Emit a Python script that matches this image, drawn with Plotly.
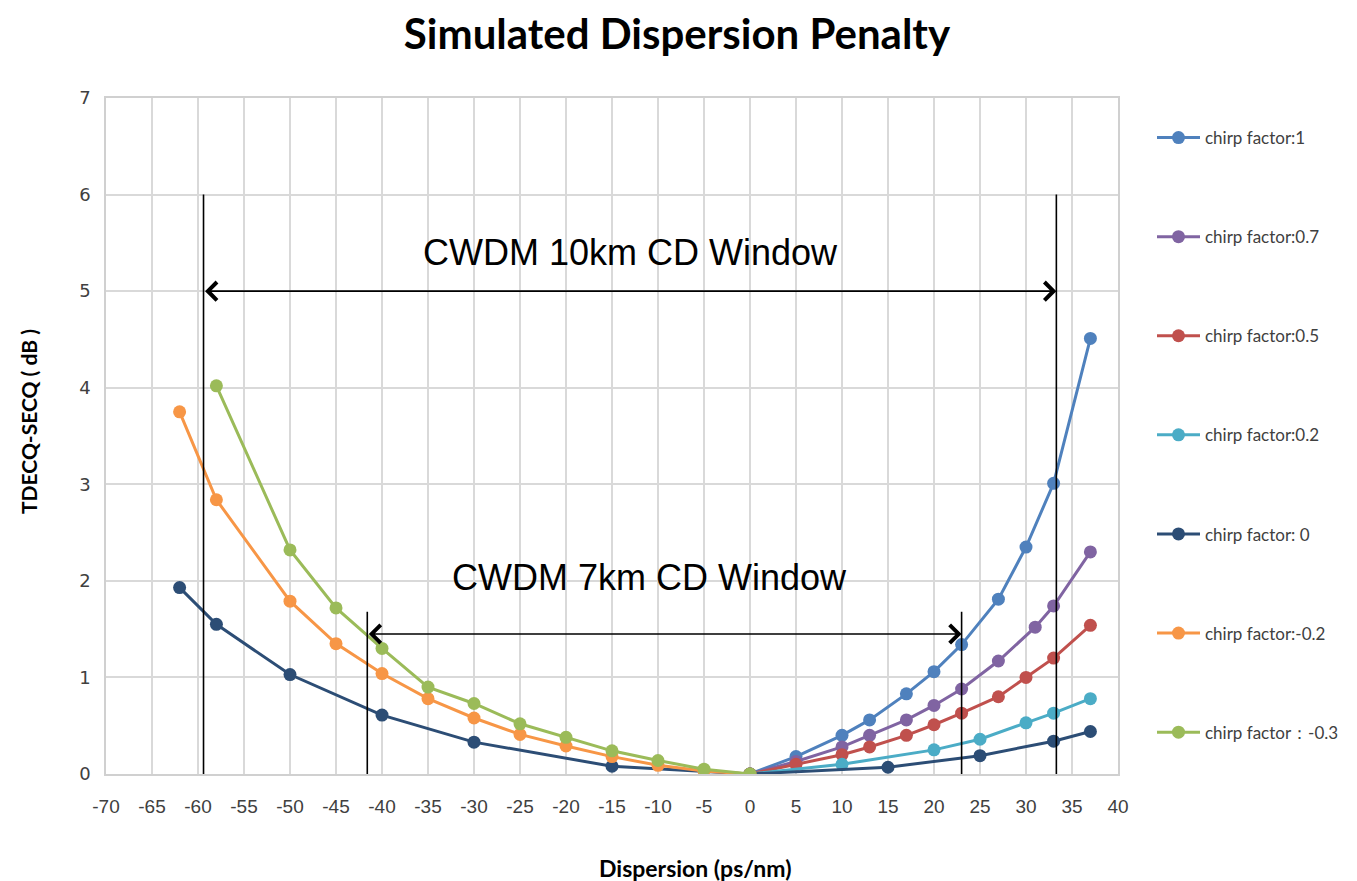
import plotly.graph_objects as go

# ---- data ----
x_cf1 = [0, 5, 10, 13, 17, 20, 23, 27, 30, 33, 37]
y_cf1 = [0, 0.18, 0.40, 0.56, 0.83, 1.06, 1.34, 1.81, 2.35, 3.01, 4.51]
x_cf07 = [0, 5, 10, 13, 17, 20, 23, 27, 31, 33, 37]
y_cf07 = [0, 0.13, 0.28, 0.40, 0.56, 0.71, 0.88, 1.17, 1.52, 1.74, 2.30]
x_cf05 = [0, 5, 10, 13, 17, 20, 23, 27, 30, 33, 37]
y_cf05 = [0, 0.10, 0.20, 0.28, 0.40, 0.51, 0.63, 0.80, 1.00, 1.20, 1.54]
x_cf02 = [0, 10, 20, 25, 30, 33, 37]
y_cf02 = [0, 0.10, 0.25, 0.36, 0.53, 0.63, 0.78]
x_cf0 = [-62, -58, -50, -40, -30, -15, 0, 15, 25, 33, 37]
y_cf0 = [1.93, 1.55, 1.03, 0.61, 0.33, 0.08, 0, 0.07, 0.19, 0.34, 0.44]
x_cfm02 = [-62, -58, -50, -45, -40, -35, -30, -25, -20, -15, -10, -5, 0]
y_cfm02 = [3.75, 2.84, 1.79, 1.35, 1.04, 0.78, 0.58, 0.41, 0.29, 0.18, 0.09, 0.03, 0]
x_cfm03 = [-58, -50, -45, -40, -35, -30, -25, -20, -15, -10, -5, 0]
y_cfm03 = [4.02, 2.32, 1.72, 1.30, 0.90, 0.73, 0.52, 0.38, 0.24, 0.14, 0.05, 0]

series_names = ["chirp factor:1", "chirp factor:0.7", "chirp factor:0.5",
                "chirp factor:0.2", "chirp factor: 0", "chirp factor:-0.2",
                "chirp factor：-0.3"]
series_colors = ["#4F81BD", "#8064A2", "#C0504D", "#4BACC6", "#2C4D75", "#F79646", "#9BBB59"]

# CD windows (ps/nm) and annotation levels (dB)
win10_bounds = [-59.4, 33.3]
win10_line_top = 6.0
win10_arrow_y = 5.0
win10_label = "CWDM 10km CD Window"
win10_label_pos = [-13.0, 5.40]
win7_bounds = [-41.6, 23.0]
win7_line_top = 1.68
win7_arrow_y = 1.45
win7_label = "CWDM 7km CD Window"
win7_label_pos = [-10.9, 2.03]

x_ticks = list(range(-70, 45, 5))
y_ticks = list(range(0, 8))

xs = [x_cf1, x_cf07, x_cf05, x_cf02, x_cf0, x_cfm02, x_cfm03]
ys = [y_cf1, y_cf07, y_cf05, y_cf02, y_cf0, y_cfm02, y_cfm03]

# figure size compensates the 8px page margin of the html body
W, H = 1349, 873
L, R, T, B = 98, 239, 90, 107
pw, ph = W - L - R, H - T - B

def px2paper(px, py):
    return (px - L) / pw, (H - B - py) / ph

fig = go.Figure()
for i, (xv, yv) in enumerate(zip(xs, ys)):
    fig.add_trace(go.Scatter(
        x=xv, y=yv, mode="lines+markers", name=series_names[i],
        legendgroup=f"g{i}",
        line=dict(color=series_colors[i], width=3),
        marker=dict(color=series_colors[i], size=13),
    ))

label_font = "Liberation Sans, Arial, sans-serif"

shapes = []
for xb in win10_bounds:
    shapes.append(dict(type="line", xref="x", yref="y", x0=xb, x1=xb, y0=0, y1=win10_line_top,
                       line=dict(color="black", width=1.6)))
for xb in win7_bounds:
    shapes.append(dict(type="line", xref="x", yref="y", x0=xb, x1=xb, y0=-0.05, y1=win7_line_top,
                       line=dict(color="black", width=1.6)))

annotations = []
for bounds, ay in [(win10_bounds, win10_arrow_y), (win7_bounds, win7_arrow_y)]:
    annotations.append(dict(
        x=bounds[1], y=ay, ax=bounds[0], ay=ay, xref="x", yref="y", axref="x", ayref="y",
        text="", showarrow=True, arrowhead=4, startarrowhead=4, arrowside="end+start",
        arrowsize=2.2, startarrowsize=2.2, arrowwidth=1.6, arrowcolor="black"))
annotations.append(dict(x=win10_label_pos[0], y=win10_label_pos[1], xref="x", yref="y",
                        text=win10_label, showarrow=False,
                        font=dict(family=label_font, size=36, color="black")))
annotations.append(dict(x=win7_label_pos[0], y=win7_label_pos[1], xref="x", yref="y",
                        text=win7_label, showarrow=False,
                        font=dict(family=label_font, size=36, color="black")))
xt_x, xt_y = px2paper(687, 860)
annotations.append(dict(x=xt_x, y=xt_y, xref="paper", yref="paper", xanchor="center", yanchor="middle",
                        text="<b>Dispersion (ps/nm)</b>", showarrow=False,
                        font=dict(family="Lato, sans-serif", size=23, color="#000")))
yt_x, yt_y = px2paper(20, 414)
annotations.append(dict(x=yt_x, y=yt_y, xref="paper", yref="paper", xanchor="center", yanchor="middle",
                        text="<b>TDECQ-SECQ ( dB )</b>", showarrow=False, textangle=-90,
                        font=dict(family="Lato, sans-serif", size=21, color="#000")))

lg_x, _ = px2paper(1144, 0)
_, lg_y = px2paper(0, 112)

fig.update_layout(
    width=W, height=H,
    margin=dict(l=L, r=R, t=T, b=B, autoexpand=False),
    paper_bgcolor="white", plot_bgcolor="white",
    title=dict(text="<b>Simulated Dispersion Penalty</b>", x=669 / W, xanchor="center",
               y=1 - 26 / H, yanchor="middle",
               font=dict(family="Lato, sans-serif", size=42, color="#000")),
    showlegend=True,
    legend=dict(x=lg_x, y=lg_y, xanchor="left", yanchor="top",
                font=dict(family="Lato, sans-serif", size=17, color="#404040"),
                tracegroupgap=74, itemwidth=43, bgcolor="rgba(0,0,0,0)"),
    shapes=shapes,
    annotations=annotations,
)
fig.update_xaxes(range=[-70, 40], tickvals=x_ticks, ticktext=[str(v) for v in x_ticks],
                 showgrid=True, gridcolor="#D9D9D9", gridwidth=1.5,
                 showline=True, linecolor="#D0D0D0", linewidth=1.5, mirror=True,
                 zeroline=False, ticks="", ticklabelstandoff=14,
                 tickfont=dict(family=label_font, size=19, color="#404040"))
fig.update_yaxes(range=[0, 7], tickvals=y_ticks,
                 showgrid=True, gridcolor="#D9D9D9", gridwidth=1.5,
                 showline=True, linecolor="#D0D0D0", linewidth=1.5, mirror=True,
                 zeroline=False, ticks="", ticklabelstandoff=10,
                 tickfont=dict(family="DejaVu Sans, sans-serif", size=18, color="#404040"))

fig.write_html("out.html")
